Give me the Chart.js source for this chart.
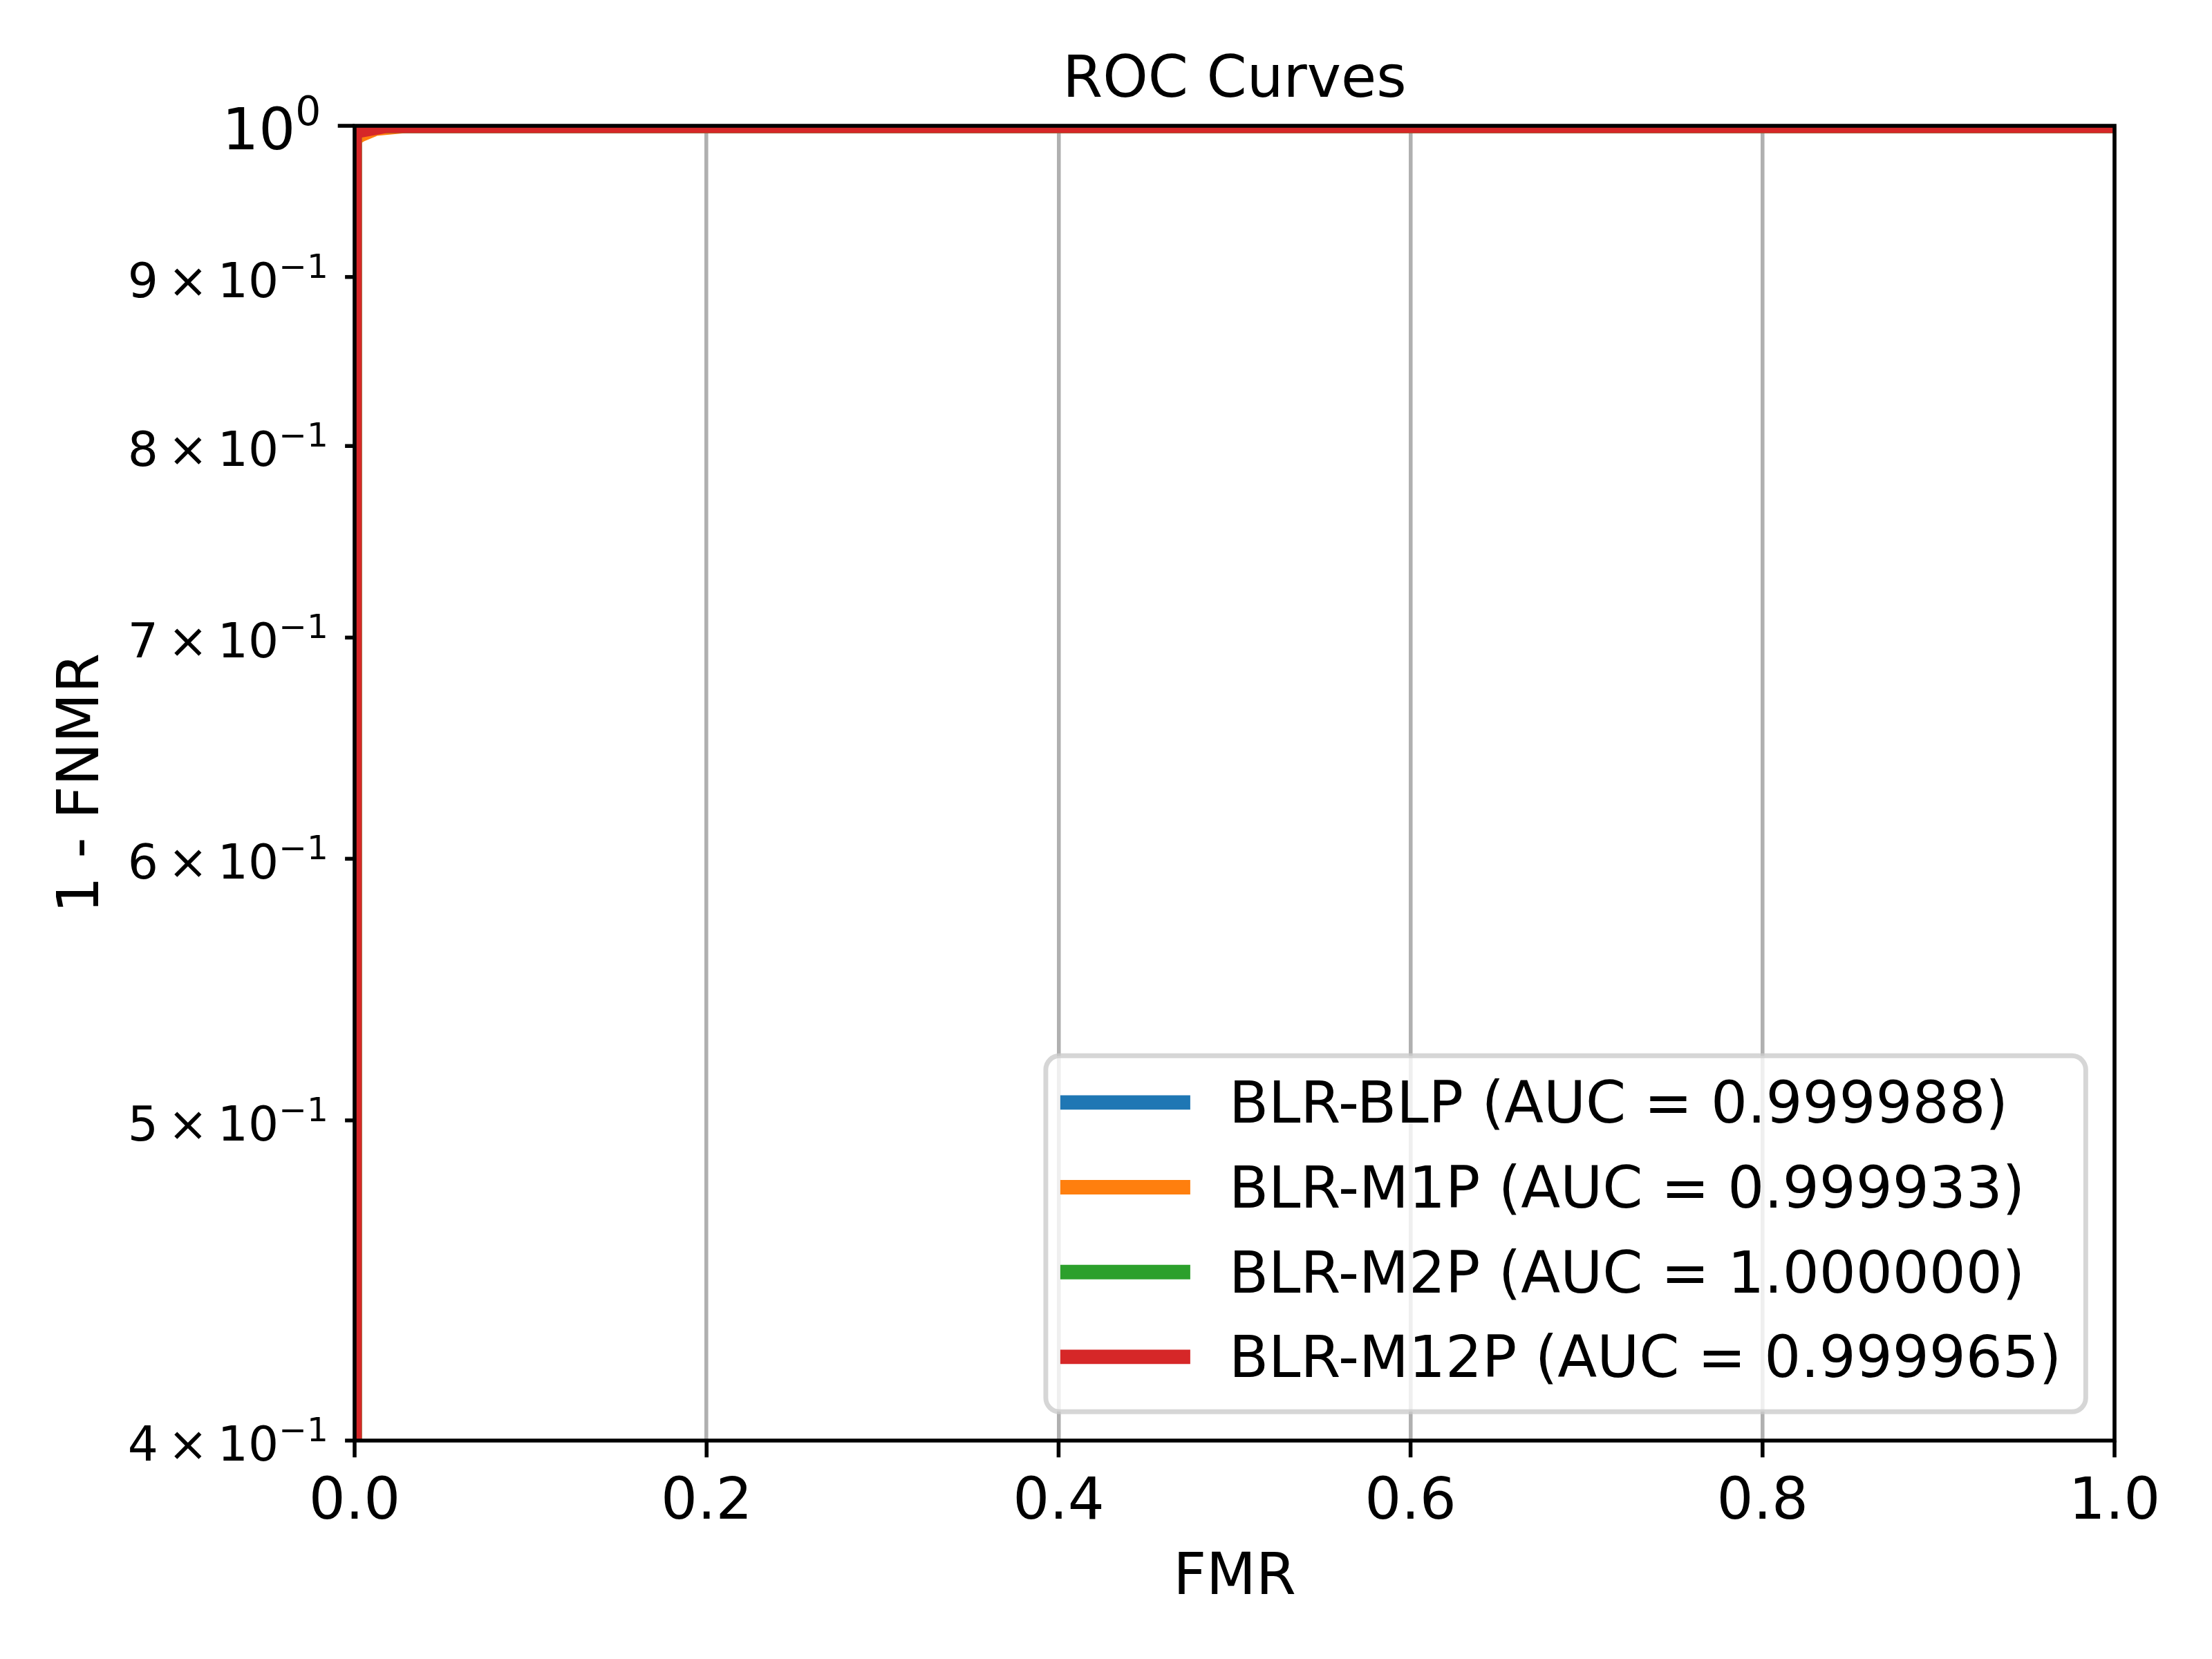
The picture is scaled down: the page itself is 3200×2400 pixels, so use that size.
<!DOCTYPE html>
<html><head><meta charset="utf-8">
<script src="https://cdn.jsdelivr.net/npm/chart.js@4.4.1/dist/chart.umd.min.js"></script>
<style>html,body{margin:0;padding:0;background:#fff;} canvas{display:block;}</style>
</head><body>
<canvas id="c" width="3200" height="2400" style="width:3200px;height:2400px"></canvas>
<script>
// ---- data ----
const seriesNames = ['BLR-BLP', 'BLR-M1P', 'BLR-M2P', 'BLR-M12P'];
const seriesAUC = ['0.999988', '0.999933', '1.000000', '0.999965'];
const seriesColors = ['#1f77b4', '#ff7f0e', '#2ca02c', '#d62728'];
// ROC points (FMR, 1-FNMR); the lowest point lies below the visible log range
const blpFMR = [0, 0, 0.008, 1];
const blpTPR = [0.01, 0.997, 1, 1];
const m1pFMR = [0, 0, 0.004, 0.012, 0.03, 1];
const m1pTPR = [0.01, 0.991, 0.994, 0.998, 1, 1];
const m2pFMR = [0, 0, 1];
const m2pTPR = [0.01, 1, 1];
const m12pFMR = [0, 0, 0.018, 1];
const m12pTPR = [0.01, 0.996, 1, 1];
const xTickValues = [0, 0.2, 0.4, 0.6, 0.8, 1.0];
const xTickLabels = ['0.0', '0.2', '0.4', '0.6', '0.8', '1.0'];
const yTickValues = [0.4, 0.5, 0.6, 0.7, 0.8, 0.9, 1.0];
const yTickBase = ['4\u2009×\u200910', '5\u2009×\u200910', '6\u2009×\u200910', '7\u2009×\u200910', '8\u2009×\u200910', '9\u2009×\u200910', '10'];
const yTickSup = ['−1', '−1', '−1', '−1', '−1', '−1', '0'];
const yTickMajor = [false, false, false, false, false, false, true];
const titleText = 'ROC Curves';
const xTitleText = 'FMR';
const yTitleText = '1 - FNMR';

const FONT = '"DejaVu Sans", sans-serif';
const PT = 500 / 72;

const pts = (xs, ys) => xs.map((x, i) => ({ x: x, y: ys[i] }));
const seriesData = [pts(blpFMR, blpTPR), pts(m1pFMR, m1pTPR), pts(m2pFMR, m2pTPR), pts(m12pFMR, m12pTPR)];

const datasets = seriesNames.map((n, i) => ({
  label: n + ' (AUC = ' + seriesAUC[i] + ')',
  data: seriesData[i],
  borderColor: seriesColors[i],
  backgroundColor: seriesColors[i],
  borderWidth: 3 * PT,
  pointRadius: 0,
  tension: 0,
  fill: false,
  clip: 0,
  borderJoinStyle: 'round',
  borderCapStyle: 'square',
  order: seriesNames.length - 1 - i
}));

const decorPlugin = {
  id: 'decor',
  afterDatasetsDraw(chart) {
    const ctx = chart.ctx;
    const ca = chart.chartArea;
    const xs = chart.scales.x, ys = chart.scales.y;
    ctx.save();
    ctx.fillStyle = '#000';
    ctx.strokeStyle = '#000';
    ctx.lineWidth = 0.8 * PT;
    ctx.lineCap = 'butt';
    // spines
    ctx.strokeRect(ca.left, ca.top, ca.right - ca.left, ca.bottom - ca.top);
    // x ticks and labels
    ctx.font = (12 * PT) + 'px ' + FONT;
    ctx.textAlign = 'center';
    ctx.textBaseline = 'alphabetic';
    xTickValues.forEach((v, i) => {
      const px = xs.getPixelForValue(v);
      ctx.beginPath();
      ctx.moveTo(px, ca.bottom);
      ctx.lineTo(px, ca.bottom + 3.5 * PT);
      ctx.stroke();
      ctx.fillText(xTickLabels[i], px, ca.bottom + 113);
    });
    // y ticks and labels
    yTickValues.forEach((v, i) => {
      const py = ys.getPixelForValue(v);
      const major = yTickMajor[i];
      const tl = (major ? 3.5 : 2) * PT;
      ctx.beginPath();
      ctx.moveTo(ca.left - tl, py);
      ctx.lineTo(ca.left, py);
      ctx.stroke();
      const fs = (major ? 12 : 10) * PT;
      const ss = fs * 0.7;
      const right = ca.left - tl - 3.5 * PT;
      ctx.textAlign = 'left';
      ctx.font = fs + 'px ' + FONT;
      const wb = ctx.measureText(yTickBase[i]).width;
      ctx.font = ss + 'px ' + FONT;
      const wsup = ctx.measureText(yTickSup[i]).width;
      const x0 = right - wb - wsup;
      const base = py + (major ? 34 : 29);
      ctx.font = fs + 'px ' + FONT;
      ctx.fillText(yTickBase[i], x0, base);
      ctx.font = ss + 'px ' + FONT;
      ctx.fillText(yTickSup[i], x0 + wb, base - (major ? 35 : 28));
    });
    // titles
    ctx.font = (12 * PT) + 'px ' + FONT;
    ctx.textAlign = 'center';
    const cx = (ca.left + ca.right) / 2;
    ctx.fillText(titleText, cx, ca.top - 6 * PT);
    ctx.fillText(xTitleText, cx, ca.bottom + 222);
    ctx.save();
    ctx.translate(ca.left - 371, (ca.top + ca.bottom) / 2);
    ctx.rotate(-Math.PI / 2);
    ctx.fillText(yTitleText, 0, 0);
    ctx.restore();
    // legend
    const ds = chart.data.datasets;
    ctx.font = (12 * PT) + 'px ' + FONT;
    let maxW = 0;
    ds.forEach(d => { maxW = Math.max(maxW, ctx.measureText(d.label).width); });
    const bRight = ca.right - 0.5 * 12 * PT;
    const bBottom = ca.bottom - 0.5 * 12 * PT;
    const bLeft = bRight - 300 - maxW;
    const bTop = bBottom - 515;
    ctx.beginPath();
    ctx.roundRect(bLeft, bTop, bRight - bLeft, bBottom - bTop, 20);
    ctx.fillStyle = 'rgba(255,255,255,0.8)';
    ctx.fill();
    ctx.strokeStyle = 'rgba(204,204,204,0.8)';
    ctx.lineWidth = 1.0 * PT;
    ctx.stroke();
    ctx.textAlign = 'left';
    ds.forEach((d, i) => {
      const yc = bTop + 67.5 + i * 122.7;
      ctx.beginPath();
      ctx.strokeStyle = d.borderColor;
      ctx.lineWidth = 3 * PT;
      ctx.lineCap = 'butt';
      ctx.moveTo(bLeft + 21, yc);
      ctx.lineTo(bLeft + 209, yc);
      ctx.stroke();
      ctx.fillStyle = '#000';
      ctx.fillText(d.label, bLeft + 265, yc + 29.5);
    });
    ctx.restore();
  }
};

new Chart(document.getElementById('c'), {
  type: 'line',
  data: { datasets: datasets },
  options: {
    responsive: false,
    animation: false,
    devicePixelRatio: 1,
    events: [],
    layout: { padding: { left: 513, top: 182, right: 141, bottom: 316 } },
    plugins: { legend: { display: false }, title: { display: false }, tooltip: { enabled: false } },
    scales: {
      x: {
        type: 'linear', min: 0, max: 1,
        afterBuildTicks: s => { s.ticks = xTickValues.map(v => ({ value: v })); },
        afterFit: s => { s.height = 0; },
        ticks: { display: false },
        grid: { color: '#b0b0b0', lineWidth: 0.8 * PT, drawTicks: false },
        border: { display: false }
      },
      y: {
        type: 'logarithmic', min: 0.4, max: 1.0,
        afterBuildTicks: s => { s.ticks = yTickValues.map(v => ({ value: v })); },
        afterFit: s => { s.width = 0; },
        ticks: { display: false },
        grid: { display: false },
        border: { display: false }
      }
    }
  },
  plugins: [decorPlugin]
});
</script>
</body></html>
